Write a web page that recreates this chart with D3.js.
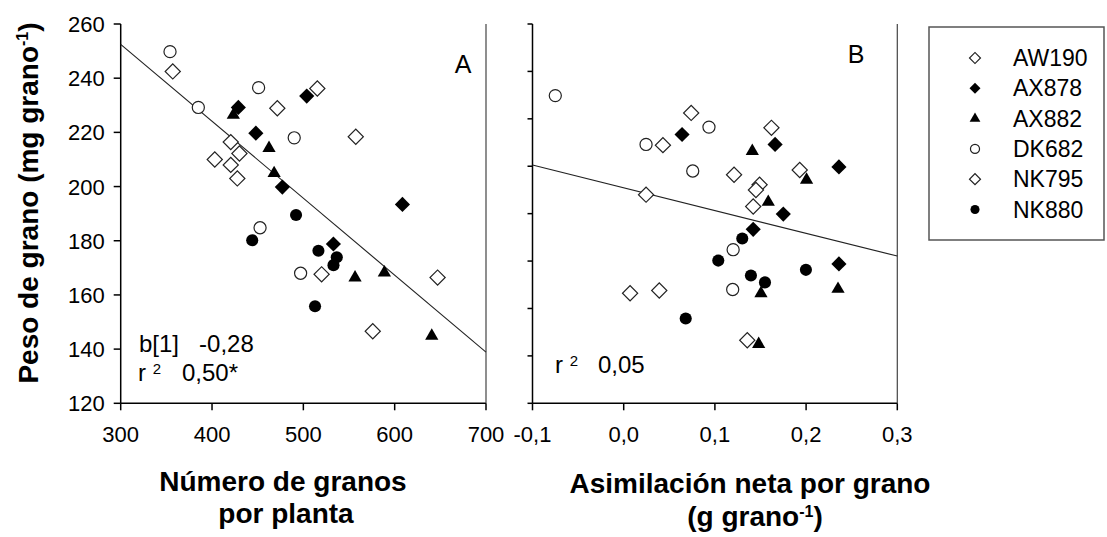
<!DOCTYPE html>
<html lang="es">
<head>
<meta charset="UTF-8">
<title>Peso de grano</title>
<style>
    body { margin: 0; background: #fff; }
    svg { display: block; font-family: "Liberation Sans", Arial, sans-serif; }
    .tick-label { font-size: 22px; fill: #000; }
    .title { font-size: 28px; font-weight: bold; fill: #000; }
</style>
</head>
<body>
<svg id="chart" width="1107" height="537"></svg>
<script src="https://d3js.org/d3.v7.min.js"></script>
<script>
    // values, one array per genotype
    const genotypes = ["AW190", "AX878", "AX882", "DK682", "NK795", "NK880"];

    const aw190Granos = [357, 471.5, 515.3, 557.4, 420.5, 430];
    const aw190Asim = [0.074, 0.043, 0.162, 0.193, 0.121, 0.149];
    const aw190Peso = [242.5, 228.9, 236.2, 218.4, 216.4, 212.2];

    const ax878Granos = [503.7, 428.8, 448, 477, 608.5, 532.9];
    const ax878Asim = [0.064, 0.166, 0.236, 0.175, 0.142, 0.236];
    const ax878Peso = [233.4, 229.2, 219.7, 199.8, 193.4, 178.8];

    const ax882Granos = [423.3, 462.4, 468, 556.6, 588.7, 640.6];
    const ax882Asim = [0.141, 0.2005, 0.1585, 0.1505, 0.235, 0.148];
    const ax882Peso = [226.4, 214.2, 204.9, 166.4, 168.2, 144.9];

    const dk682Granos = [354, 451, 385, 490, 452.6, 497];
    const dk682Asim = [-0.075, 0.0935, 0.0245, 0.0757, 0.120, 0.1195];
    const dk682Peso = [249.8, 236.5, 229.2, 218, 184.8, 168];

    const nk795Granos = [403, 420.5, 427.7, 520, 647, 576];
    const nk795Asim = [0.145, 0.0245, 0.142, 0.039, 0.007, 0.1355];
    const nk795Peso = [210, 208, 203, 167.6, 166.4, 146.6];

    const nk880Granos = [492, 444, 516.5, 536.6, 533, 512.8];
    const nk880Asim = [0.13, 0.1037, 0.1998, 0.1395, 0.1549, 0.068];
    const nk880Peso = [189.5, 180.2, 176.3, 173.9, 171, 155.8];

    // fitted lines (intercept, slope) as printed in the panels
    const fitA = [337.7, -0.284];
    const fitB = [210.9, -96];

    const ticksGranos = [300, 400, 500, 600, 700];
    const ticksAsim = [-0.1, 0.0, 0.1, 0.2, 0.3];
    const ticksPesoA = [120, 140, 160, 180, 200, 220, 240, 260];
    const ticksPesoB = [120, 140, 160, 180, 200, 220, 240, 260, 280];

    const series = [
        { name: "AW190", granos: aw190Granos, asim: aw190Asim, peso: aw190Peso, shape: "diamond", filled: false },
        { name: "AX878", granos: ax878Granos, asim: ax878Asim, peso: ax878Peso, shape: "diamond", filled: true },
        { name: "AX882", granos: ax882Granos, asim: ax882Asim, peso: ax882Peso, shape: "triangle", filled: true },
        { name: "DK682", granos: dk682Granos, asim: dk682Asim, peso: dk682Peso, shape: "circle", filled: false },
        { name: "NK795", granos: nk795Granos, asim: nk795Asim, peso: nk795Peso, shape: "diamond", filled: false },
        { name: "NK880", granos: nk880Granos, asim: nk880Asim, peso: nk880Peso, shape: "circle", filled: true }
    ];

    const svg = d3.select("#chart");
    const comma = d3.formatLocale({ decimal: ",", thousands: ".", grouping: [3], currency: ["", ""], minus: "-" });

    const yTop = 24, yBottom = 403.3;
    const xA = d3.scaleLinear().domain([300, 700]).range([120.7, 486]);
    const yA = d3.scaleLinear().domain([120, 260]).range([yBottom, yTop]);
    const xB = d3.scaleLinear().domain([-0.1, 0.3]).range([532.5, 897.3]);
    const yB = d3.scaleLinear().domain([120, 280]).range([yBottom, yTop]);

    function symbolPath(shape, big) {
        if (shape === "diamond") return d3.symbol(d3.symbolSquare, big ? 115 : 60)();
        if (shape === "triangle") return d3.symbol(d3.symbolTriangle, big ? 76 : 50)();
        return d3.symbol(d3.symbolCircle, big ? 115 : 65)();
    }

    function drawMarker(g, s, x, y, big) {
        const p = g.append("path")
            .attr("d", symbolPath(s.shape, big))
            .attr("transform", `translate(${x},${y})` + (s.shape === "diamond" ? " rotate(45)" : ""));
        if (s.filled) p.attr("fill", "#000").attr("stroke", "none");
        else p.attr("fill", "#fff").attr("stroke", "#222").attr("stroke-width", 1.2);
    }

    function drawPanel(x, y, xKey, xTicks, yTicks, fmt, yLabels, fit, xLen, yLen) {
        const g = svg.append("g");

        // frame: left, bottom, right
        g.append("line").attr("x1", x.range()[0]).attr("x2", x.range()[0])
            .attr("y1", yTop).attr("y2", yBottom).attr("stroke", "#000").attr("stroke-width", 1.5);
        g.append("line").attr("x1", x.range()[0]).attr("x2", x.range()[1])
            .attr("y1", yBottom).attr("y2", yBottom).attr("stroke", "#000").attr("stroke-width", 1.5);
        g.append("line").attr("x1", x.range()[1]).attr("x2", x.range()[1])
            .attr("y1", yTop).attr("y2", yBottom).attr("stroke", "#444").attr("stroke-width", 1.2);

        g.selectAll(".xt").data(xTicks).join("line")
            .attr("x1", d => x(d)).attr("x2", d => x(d))
            .attr("y1", yBottom).attr("y2", yBottom + xLen)
            .attr("stroke", "#000").attr("stroke-width", 1.5);
        g.selectAll(".xl").data(xTicks).join("text")
            .attr("class", "tick-label")
            .attr("x", d => x(d)).attr("y", yBottom + 39)
            .attr("text-anchor", "middle")
            .text(fmt);

        g.selectAll(".yt").data(yTicks).join("line")
            .attr("x1", x.range()[0] - yLen).attr("x2", x.range()[0])
            .attr("y1", d => y(d)).attr("y2", d => y(d))
            .attr("stroke", "#000").attr("stroke-width", 1.5);
        if (yLabels) {
            g.selectAll(".yl").data(yTicks).join("text")
                .attr("class", "tick-label")
                .attr("x", x.range()[0] - 16).attr("y", d => y(d) + 8)
                .attr("text-anchor", "end")
                .text(d => d);
        }

        const [x0, x1] = x.domain();
        g.append("line")
            .attr("x1", x(x0)).attr("y1", y(fit[0] + fit[1] * x0))
            .attr("x2", x(x1)).attr("y2", y(fit[0] + fit[1] * x1))
            .attr("stroke", "#222").attr("stroke-width", 1.1);

        series.forEach(s => {
            s[xKey].forEach((v, i) => drawMarker(g, s, x(v), y(s.peso[i]), true));
        });
        return g;
    }

    const gA = drawPanel(xA, yA, "granos", ticksGranos, ticksPesoA, d => d, true, fitA, 7, 7);
    const gB = drawPanel(xB, yB, "asim", ticksAsim, ticksPesoB, comma.format(".1f"), false, fitB, 7, 5);

    // panel letters and statistics
    svg.append("text").attr("x", 463).attr("y", 73).attr("text-anchor", "middle")
        .style("font-size", "25px").text("A");
    svg.append("text").attr("x", 856).attr("y", 63).attr("text-anchor", "middle")
        .style("font-size", "25px").text("B");

    const stat = svg.append("g").style("font-size", "24px");
    stat.append("text").attr("x", 139).attr("y", 352).attr("xml:space", "preserve").text("b[1]   -0,28");
    const r2a = stat.append("text").attr("x", 138).attr("y", 381);
    r2a.append("tspan").text("r ");
    r2a.append("tspan").attr("dy", -7).style("font-size", "15px").text("2");
    r2a.append("tspan").attr("x", 182).attr("dy", 7).text("0,50*");
    const r2b = stat.append("text").attr("x", 555).attr("y", 373);
    r2b.append("tspan").text("r ");
    r2b.append("tspan").attr("dy", -7).style("font-size", "15px").text("2");
    r2b.append("tspan").attr("x", 598).attr("dy", 7).text("0,05");

    // axis titles
    const yt = svg.append("text").attr("class", "title")
        .attr("transform", "translate(38,203) rotate(-90)").attr("text-anchor", "middle");
    yt.append("tspan").text("Peso de grano (mg grano");
    yt.append("tspan").attr("dy", -10).style("font-size", "16px").text("-1");
    yt.append("tspan").attr("dy", 10).text(")");

    svg.append("text").attr("class", "title").attr("x", 283).attr("y", 491)
        .attr("text-anchor", "middle").text("Número de granos");
    svg.append("text").attr("class", "title").attr("x", 286).attr("y", 523)
        .attr("text-anchor", "middle").text("por planta");

    svg.append("text").attr("class", "title").attr("x", 750).attr("y", 493)
        .attr("text-anchor", "middle").text("Asimilación neta por grano");
    const bt = svg.append("text").attr("class", "title").attr("x", 755).attr("y", 526)
        .attr("text-anchor", "middle");
    bt.append("tspan").text("(g grano");
    bt.append("tspan").attr("dy", -9).style("font-size", "16px").text("-1");
    bt.append("tspan").attr("dy", 9).text(")");

    // legend
    const legend = svg.append("g");
    legend.append("rect").attr("x", 929).attr("y", 27).attr("width", 175).attr("height", 213)
        .attr("fill", "none").attr("stroke", "#555").attr("stroke-width", 1.5);
    series.forEach((s, i) => {
        const ly = 58 + i * 30.3;
        drawMarker(legend, s, 975, ly, false);
        legend.append("text").attr("x", 1013).attr("y", ly + 8)
            .style("font-size", "23px").text(s.name);
    });
</script>
</body>
</html>
